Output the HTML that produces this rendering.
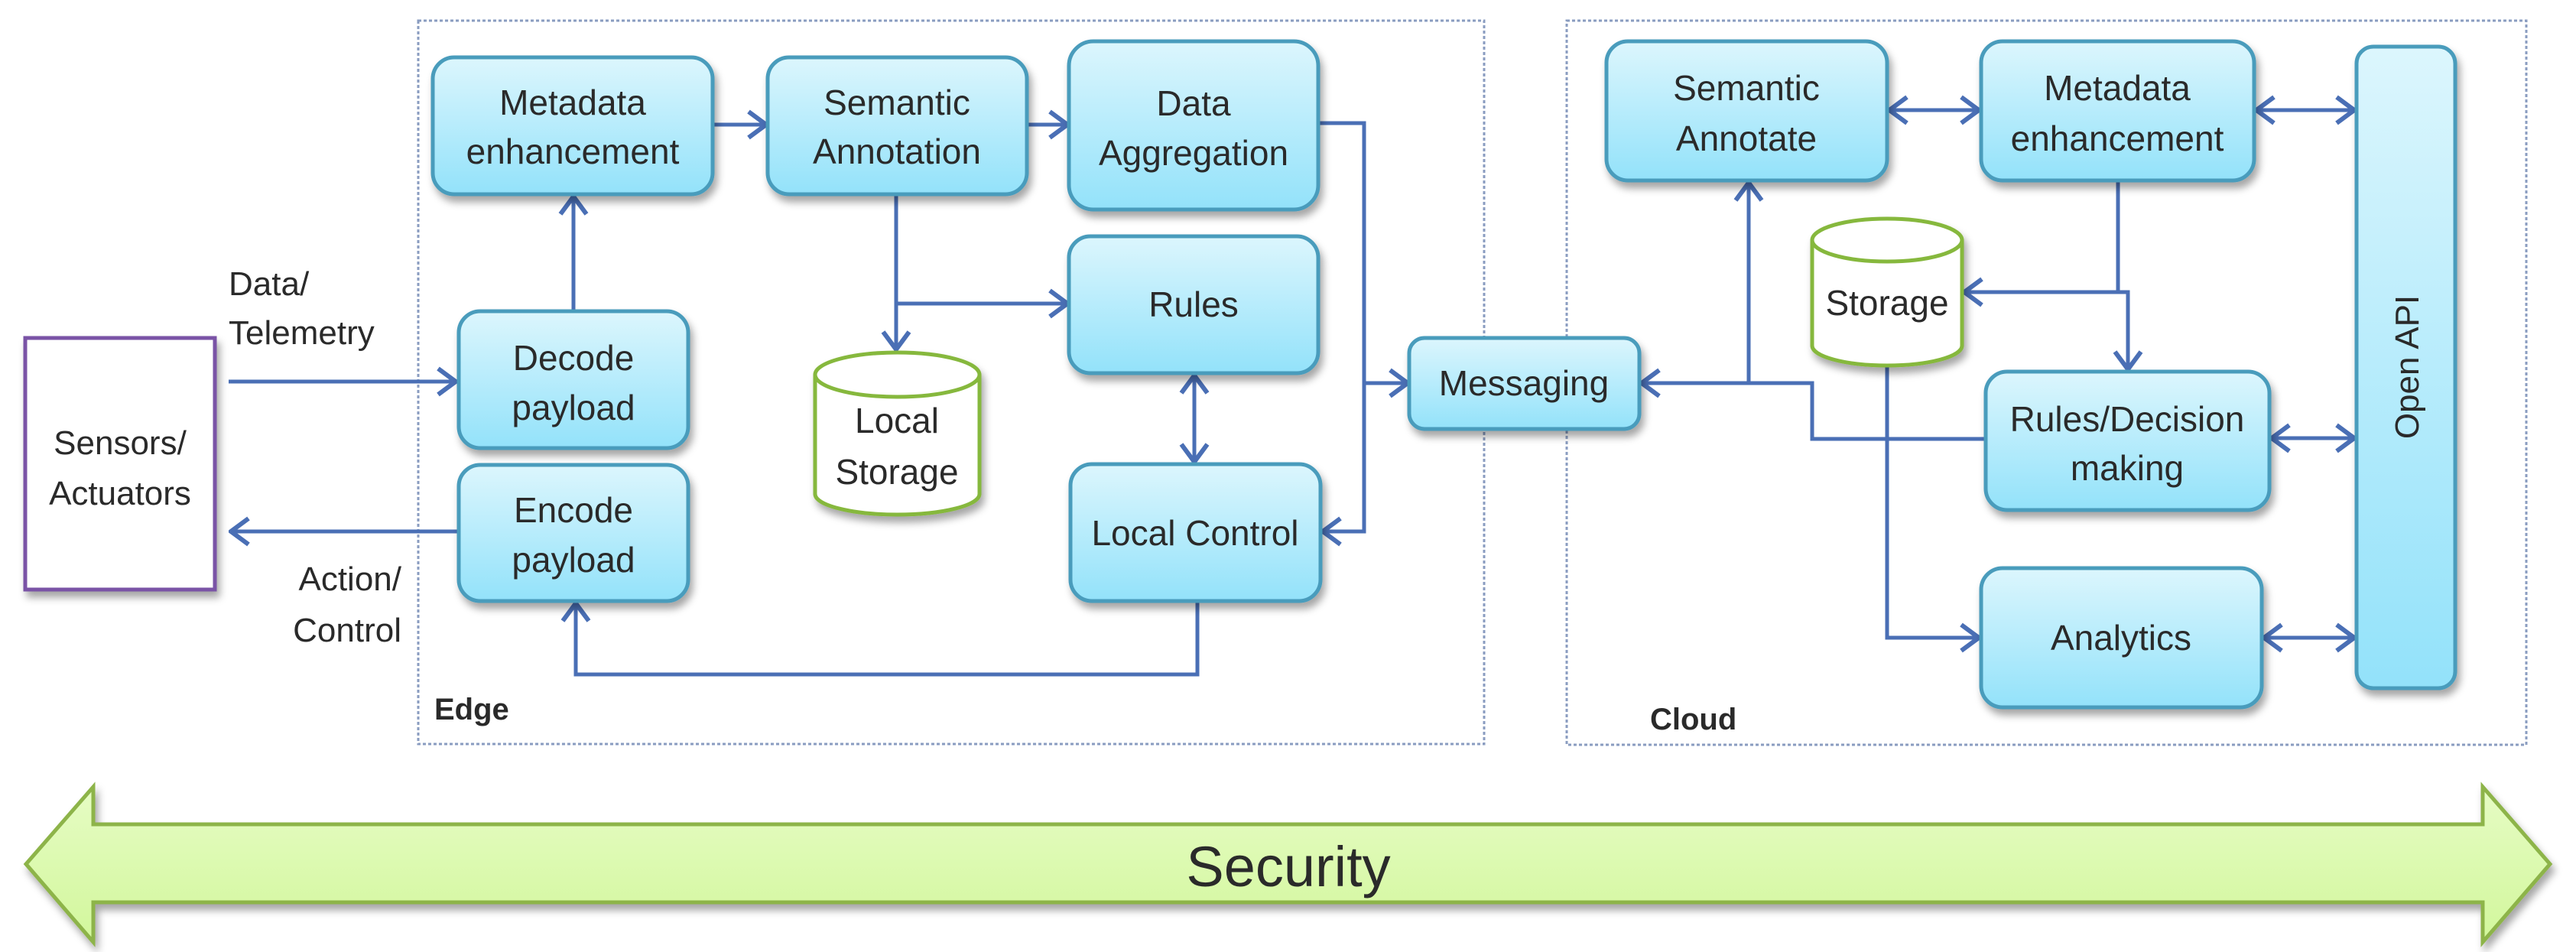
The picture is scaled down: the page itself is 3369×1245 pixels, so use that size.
<!DOCTYPE html>
<html><head><meta charset="utf-8"><style>
html,body{margin:0;padding:0;background:#fff;}
svg{display:block;}
text{font-family:"Liberation Sans",sans-serif;fill:#2a2a2a;}
</style></head><body>
<svg width="3369" height="1245" viewBox="0 0 3369 1245" xmlns="http://www.w3.org/2000/svg">
<defs>
<linearGradient id="bg" x1="0" y1="0" x2="0" y2="1">
<stop offset="0" stop-color="#dcf6fd"/><stop offset="1" stop-color="#93e2fa"/></linearGradient>
<linearGradient id="gg" x1="0" y1="0" x2="0" y2="1">
<stop offset="0" stop-color="#e6fcc4"/><stop offset="1" stop-color="#d2f79c"/></linearGradient>
<filter id="sh" x="-10%" y="-10%" width="130%" height="130%"><feDropShadow dx="4" dy="8" stdDeviation="5" flood-color="#000" flood-opacity="0.35"/></filter>
<marker id="ah" viewBox="0 0 20 20" refX="19" refY="10" markerWidth="20" markerHeight="20" markerUnits="userSpaceOnUse" orient="auto-start-reverse">
<path d="M3 1 L19 10 L3 19" fill="none" stroke="#4a6fb5" stroke-width="3.5"/></marker>
<marker id="a" viewBox="0 0 40 40" refX="38" refY="20" markerWidth="40" markerHeight="40" markerUnits="userSpaceOnUse" orient="auto-start-reverse">
<path d="M14 3 L37 20 L14 37" fill="none" stroke="#4a6fb5" stroke-width="6"/></marker>
</defs>

<!-- containers -->
<rect x="547" y="27" width="1394" height="946" fill="none" stroke="#8a9cc0" stroke-width="3" stroke-dasharray="4 3"/>
<rect x="2049" y="27" width="1255" height="947" fill="none" stroke="#8a9cc0" stroke-width="3" stroke-dasharray="4 3"/>
<text x="568" y="941" font-size="40" font-weight="bold" fill="#111">Edge</text>
<text x="2158" y="954" font-size="40" font-weight="bold" fill="#111">Cloud</text>

<!-- sensors -->
<rect x="33" y="442" width="248" height="329" fill="#fff" stroke="#7a52a6" stroke-width="5" filter="url(#sh)"/>
<text x="157" y="594" font-size="44" text-anchor="middle">Sensors/</text>
<text x="157" y="660" font-size="44" text-anchor="middle">Actuators</text>
<text x="299" y="386" font-size="44">Data/</text>
<text x="299" y="450" font-size="44">Telemetry</text>
<text x="525" y="772" font-size="44" text-anchor="end">Action/</text>
<text x="525" y="839" font-size="44" text-anchor="end">Control</text>

<g fill="none" stroke="#4a6fb5" stroke-width="5">
<!-- edge connectors -->
<line x1="299" y1="499" x2="597" y2="499" marker-end="url(#a)"/>
<line x1="600" y1="695" x2="301" y2="695" marker-end="url(#a)"/>
<line x1="750" y1="407" x2="750" y2="256" marker-end="url(#a)"/>
<line x1="932" y1="163" x2="1003" y2="163" marker-end="url(#a)"/>
<line x1="1343" y1="163" x2="1397" y2="163" marker-end="url(#a)"/>
<line x1="1172" y1="254" x2="1172" y2="458" marker-end="url(#a)"/>
<line x1="1172" y1="397" x2="1397" y2="397" marker-end="url(#a)"/>
<line x1="1562" y1="490" x2="1562" y2="605" marker-start="url(#a)" marker-end="url(#a)"/>
<polyline points="1566,786 1566,882 753,882 753,788" marker-end="url(#a)"/>
<polyline points="1724,161 1784,161 1784,695 1729,695" marker-end="url(#a)"/>
<line x1="1784" y1="501" x2="1842" y2="501" marker-end="url(#a)"/>
<!-- cloud connectors -->
<line x1="2470" y1="144" x2="2589" y2="144" marker-start="url(#a)" marker-end="url(#a)"/>
<line x1="2950" y1="144" x2="3080" y2="144" marker-start="url(#a)" marker-end="url(#a)"/>
<polyline points="2770,236 2770,382 2568,382" marker-end="url(#a)"/>
<polyline points="2770,382 2783,382 2783,484" marker-end="url(#a)"/>
<polyline points="2597,574 2370,574 2370,501 2146,501" marker-end="url(#a)"/>
<polyline points="2287,501 2287,238" marker-end="url(#a)"/>
<polyline points="2468,478 2468,834 2589,834" marker-end="url(#a)"/>
<line x1="2970" y1="573" x2="3080" y2="573" marker-start="url(#a)" marker-end="url(#a)"/>
<line x1="2960" y1="834" x2="3080" y2="834" marker-start="url(#a)" marker-end="url(#a)"/>
</g>

<!-- boxes -->
<g stroke="#4a9cbc" stroke-width="5" fill="url(#bg)" filter="url(#sh)">
<rect x="566" y="75" width="366" height="179" rx="28"/>
<rect x="1004" y="75" width="339" height="179" rx="28"/>
<rect x="1398" y="54" width="326" height="220" rx="32"/>
<rect x="1398" y="309" width="326" height="179" rx="28"/>
<rect x="1400" y="607" width="327" height="179" rx="28"/>
<rect x="600" y="407" width="300" height="179" rx="28"/>
<rect x="600" y="608" width="300" height="178" rx="28"/>
<rect x="1843" y="442" width="301" height="119" rx="20"/>
<rect x="2101" y="54" width="367" height="182" rx="28"/>
<rect x="2591" y="54" width="357" height="182" rx="28"/>
<rect x="3082" y="61" width="129" height="839" rx="22"/>
<rect x="2597" y="486" width="371" height="181" rx="28"/>
<rect x="2591" y="743" width="367" height="182" rx="28"/>
</g>

<!-- cylinders -->
<g stroke="#86b83c" stroke-width="5" fill="#fff" filter="url(#sh)">
<path d="M1066 490 L1066 646 A107.5 27 0 0 0 1281 646 L1281 490"/>
<ellipse cx="1173.5" cy="490" rx="107.5" ry="29"/>
<path d="M2370 314 L2370 452 A98 26 0 0 0 2566 452 L2566 314"/>
<ellipse cx="2468" cy="314" rx="98" ry="28"/>
</g>

<!-- box labels -->
<g font-size="46" text-anchor="middle">
<text x="749" y="150">Metadata</text><text x="749" y="214">enhancement</text>
<text x="1173" y="150">Semantic</text><text x="1173" y="214">Annotation</text>
<text x="1561" y="151">Data</text><text x="1561" y="216">Aggregation</text>
<text x="1561" y="414">Rules</text>
<text x="1563" y="713">Local Control</text>
<text x="750" y="484">Decode</text><text x="750" y="549">payload</text>
<text x="750" y="683">Encode</text><text x="750" y="748">payload</text>
<text x="1173" y="566">Local</text><text x="1173" y="633">Storage</text>
<text x="1993" y="517">Messaging</text>
<text x="2284" y="131">Semantic</text><text x="2284" y="197">Annotate</text>
<text x="2769" y="131">Metadata</text><text x="2769" y="197">enhancement</text>
<text x="2468" y="412">Storage</text>
<text x="2782" y="564">Rules/Decision</text><text x="2782" y="628">making</text>
<text x="2774" y="850">Analytics</text>
<text transform="translate(3163,480) rotate(-90)" font-size="44">Open API</text>
</g>

<!-- security arrow -->
<path d="M34 1130 L122 1029 L122 1078 L3247 1078 L3247 1029 L3335 1130 L3247 1232 L3247 1180 L122 1180 L122 1232 Z" fill="url(#gg)" stroke="#8db44a" stroke-width="5" filter="url(#sh)"/>
<text x="1685" y="1159" font-size="74" text-anchor="middle" fill="#111">Security</text>
</svg>
</body></html>
